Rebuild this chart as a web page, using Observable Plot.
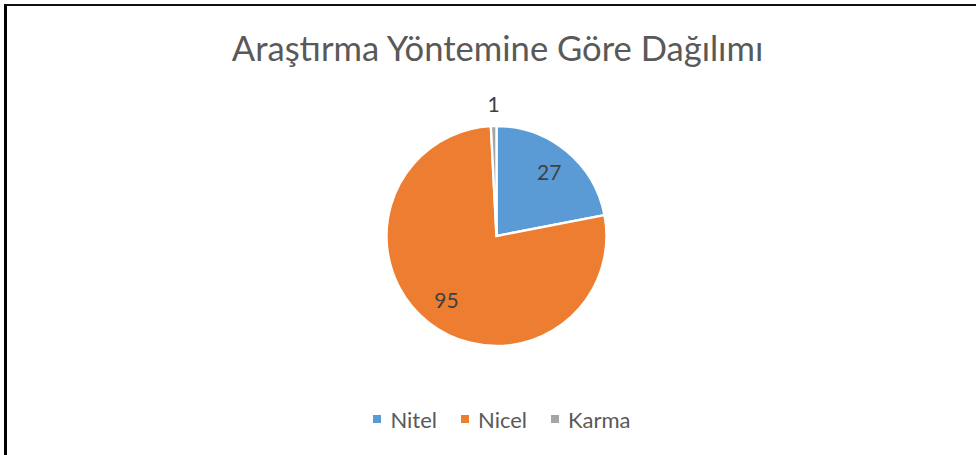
<!DOCTYPE html>
<html>
<head>
<meta charset="utf-8">
<script src="https://cdn.jsdelivr.net/npm/d3@7"></script>
<script src="https://cdn.jsdelivr.net/npm/@observablehq/plot@0.6"></script>
<style>
  html, body { margin: 0; padding: 0; background: #fff; }
  #wrap { position: relative; width: 976px; height: 455px; overflow: hidden; font-family: Lato, "Open Sans", sans-serif; }
  #frame { position: absolute; left: 4px; top: 4px; width: 990px; height: 470px; border-left: 3px solid #000; border-top: 2px solid #111; box-sizing: border-box; pointer-events: none; }
  #chart { position: absolute; left: 0; top: 0; }
  #legend { position: absolute; left: 6px; top: 404px; width: 992px; display: flex; justify-content: center; }
  .lg-swatches { font-family: Lato, sans-serif !important; font-size: 22px !important; color: #595959 !important; margin: 0 !important; }
  .lg-swatches-wrap { justify-content: center; min-height: 30px !important; }
  .lg-swatch { margin-right: 24px !important; }
  .lg-swatch:last-child { margin-right: 0 !important; }
  .lg-swatch > svg { margin-right: 9px !important; }
</style>
</head>
<body>
<div id="wrap">
  <div id="chart"></div>
  <div id="legend"></div>
  <div id="frame"></div>
</div>
<script>
const title = "Araştırma Yöntemine Göre Dağılımı";
const categories = ["Nitel", "Nicel", "Karma"];
const values = [27, 95, 1];
const colors = ["#5B9BD5", "#ED7D31", "#A5A5A5"];

const W = 976, H = 455;
const cx = 496.5, cy = 236, R = 110;

const data = categories.map((name, i) => ({name, value: values[i]}));
const color = Plot.scale({color: {type: "categorical", domain: categories, range: colors}});

const arcs = d3.pie().sort(null).value(d => d.value)(data);
const arcGen = d3.arc().innerRadius(0).outerRadius(R);
// label radius: inside for big slices, outside for tiny slices
const labels = arcs.map(a => {
  const frac = a.value / d3.sum(values);
  const r = frac < 0.05 ? R + 21 : R * 0.745;
  const [x, y] = d3.arc().innerRadius(r).outerRadius(r).centroid(a);
  return {x: cx + x, y: cy + y, text: String(a.value)};
});

const pieMark = (index, scales, vals, dims, context) => {
  const g = d3.create("svg:g").attr("transform", `translate(${cx},${cy})`);
  g.selectAll("path")
    .data(arcs)
    .join("path")
    .attr("d", arcGen)
    .attr("fill", d => color.apply(d.data.name))
    .attr("stroke", "#fff")
    .attr("stroke-width", 2.4)
    .attr("stroke-linejoin", "miter");
  return g.node();
};

const chart = Plot.plot({
  width: W,
  height: H,
  margin: 0,
  x: {type: "identity", axis: null},
  y: {type: "identity", axis: null},
  style: {background: "#fff", overflow: "visible"},
  marks: [
    Plot.text([title], {
      frameAnchor: "top", dx: 9, dy: 49, lineAnchor: "middle", text: d => d,
      fontSize: 34.6, fill: "#595959", fontFamily: "Lato, sans-serif", fontWeight: 400
    }),
    pieMark,
    Plot.text(labels, {
      x: "x", y: "y", text: "text", textAnchor: "middle", lineAnchor: "middle",
      fontSize: 21, fill: "#404040", fontFamily: "Lato, sans-serif"
    })
  ]
});
document.getElementById("chart").appendChild(chart);

const legend = Plot.legend({
  color: {type: "categorical", domain: categories, range: colors},
  legend: "swatches",
  swatchSize: 8,
  className: "lg"
});
document.getElementById("legend").appendChild(legend);
</script>
</body>
</html>
